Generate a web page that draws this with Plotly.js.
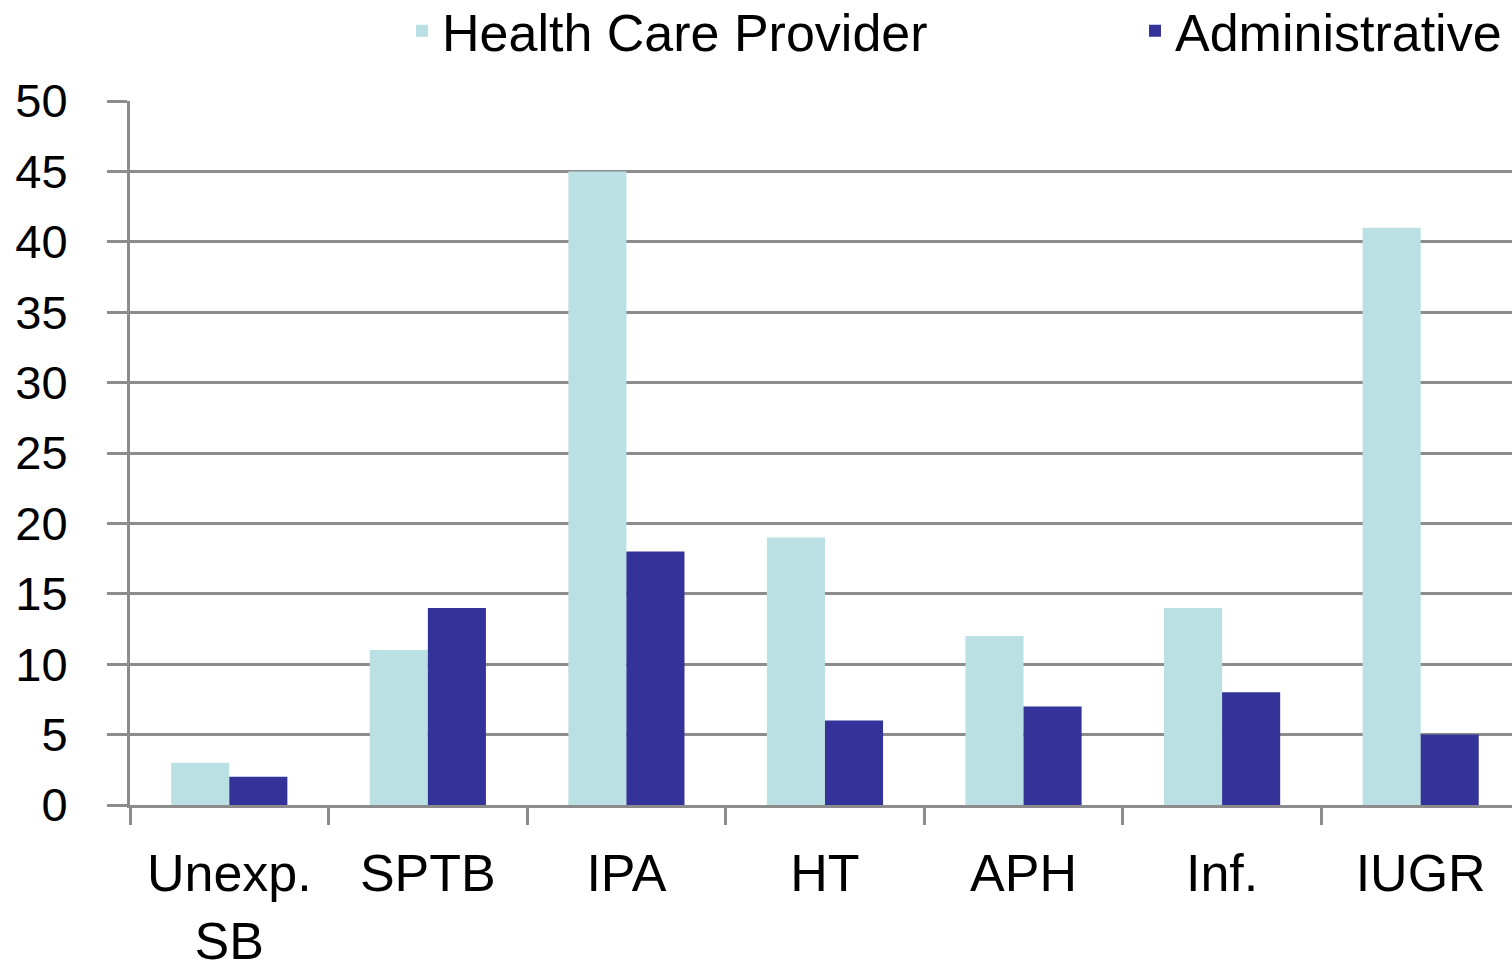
<!DOCTYPE html>
<html>
<head>
<meta charset="utf-8">
<script src="https://cdn.plot.ly/plotly-3.0.1.min.js"></script>
<style>html,body{margin:0;padding:0;background:#fff;}#chart{width:1512px;height:964px;}</style>
</head>
<body>
<div id="chart"></div>
<script>
const categories = ["Unexp.<br>SB", "SPTB", "IPA", "HT", "APH", "Inf.", "IUGR"];
const healthCareProvider = [3, 11, 45, 19, 12, 14, 41];
const administrative = [2, 14, 18, 6, 7, 8, 5];
const seriesNames = ["Health Care Provider", "Administrative"];
const yTicks = [0, 5, 10, 15, 20, 25, 30, 35, 40, 45, 50];

const font = "Liberation Sans, Arial, sans-serif";
const gridColor = "#8c8c8c";

const traces = [
  {type: "bar", name: seriesNames[0], x: categories, y: healthCareProvider,
   marker: {color: "#bae0e3"}, legend: "legend"},
  {type: "bar", name: seriesNames[1], x: categories, y: administrative,
   marker: {color: "#333399"}, legend: "legend2"}
];

const legendFont = {size: 52, family: font, color: "#000"};
const layout = {
  width: 1512, height: 964,
  margin: {l: 130, r: 0, t: 101, b: 159, autoexpand: false},
  paper_bgcolor: "#fff", plot_bgcolor: "#fff",
  barmode: "group", bargap: 0.415, bargroupgap: 0,
  font: {family: font, color: "#000"},
  showlegend: true,
  legend: {orientation: "h", xref: "container", yref: "container",
           x: 402 / 1512, xanchor: "left", y: 1 - 31 / 964, yanchor: "middle",
           font: legendFont, itemclick: false, bgcolor: "rgba(0,0,0,0)"},
  legend2: {orientation: "h", xref: "container", yref: "container",
           x: 1135 / 1512, xanchor: "left", y: 1 - 31 / 964, yanchor: "middle",
           font: legendFont, itemclick: false, bgcolor: "rgba(0,0,0,0)"},
  xaxis: {type: "category", range: [-0.5, 6.46], tickson: "boundaries",
          ticks: "outside", ticklen: 17, tickwidth: 3, tickcolor: gridColor,
          showline: true, linecolor: gridColor, linewidth: 3,
          showgrid: false, zeroline: false,
          tickfont: {size: 52, family: font, color: "#000"}, ticklabelstandoff: 21},
  yaxis: {range: [0, 50], tickvals: yTicks, ticktext: yTicks.map(String),
          ticks: "outside", ticklen: 20, tickwidth: 3, tickcolor: gridColor,
          showgrid: true, gridcolor: gridColor, gridwidth: 3,
          showline: true, linecolor: gridColor, linewidth: 3, zeroline: false,
          tickfont: {size: 47, family: font, color: "#000"}, ticklabelstandoff: 30}
};

Plotly.newPlot("chart", traces, layout, {displayModeBar: false, staticPlot: true});
</script>
</body>
</html>
